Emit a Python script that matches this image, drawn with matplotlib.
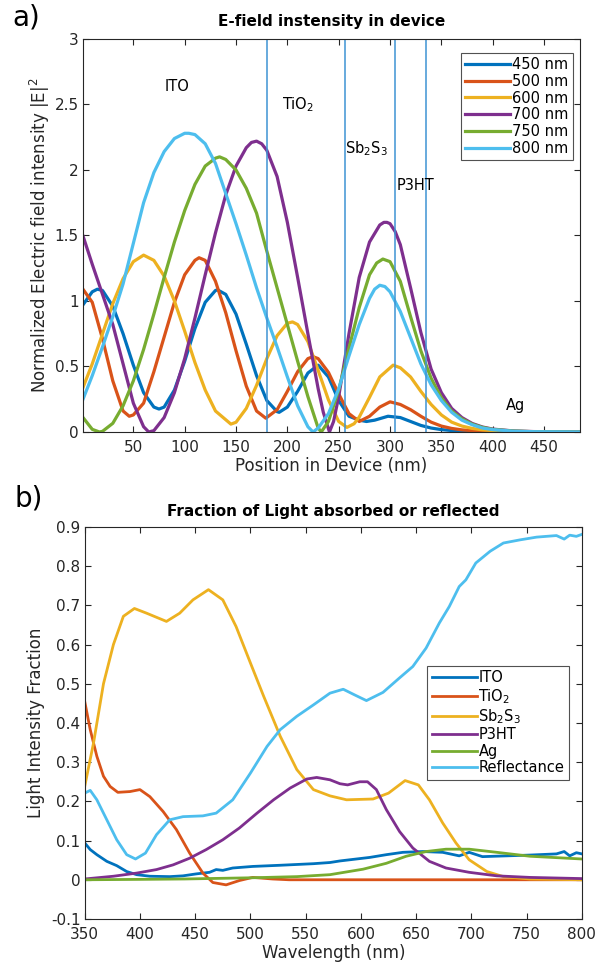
import matplotlib
matplotlib.use("Agg")
import matplotlib.pyplot as plt
from matplotlib.ticker import FormatStrFormatter

plt.rcParams['font.family'] = ['DejaVu Sans']
plt.rcParams['axes.unicode_minus'] = False

# ---- a) E-field intensity vs position in device ----
pos_450 = [0,10,15,20,30,40,50,60,70,75,80,90,100,110,120,130,132,140,150,160,170,180,190,192,200,
           210,220,230,240,250,260,270,277,285,298,310,320,330,340,350,360,370,380,400,430,485]
e_450 = [0.96,1.07,1.09,1.08,0.96,0.75,0.51,0.30,0.19,0.175,0.19,0.32,0.54,0.79,0.99,1.08,1.085,1.05,0.90,0.67,
         0.43,0.24,0.155,0.15,0.19,0.31,0.45,0.51,0.42,0.24,0.12,0.09,0.08,0.09,0.12,0.11,0.08,0.05,0.03,0.018,
         0.011,0.007,0.004,0.002,0.001,0.0]

pos_500 = [0,10,20,30,40,46,50,60,70,80,90,100,110,114,120,130,140,150,160,170,179,190,200,210,220,225,
           230,240,250,260,270,280,290,300,310,320,330,340,350,360,370,380,390,420,485]
e_500 = [1.10,0.99,0.71,0.39,0.16,0.12,0.13,0.22,0.46,0.725,0.99,1.2,1.31,1.33,1.31,1.15,0.91,0.62,0.35,0.16,
         0.105,0.17,0.31,0.46,0.56,0.575,0.56,0.455,0.29,0.14,0.08,0.12,0.19,0.23,0.21,0.17,0.12,0.075,0.045,
         0.027,0.016,0.01,0.006,0.002,0.0]

pos_600 = [0,10,20,30,40,50,60,70,80,90,100,110,120,130,145,150,160,170,180,190,200,205,210,220,230,
           240,250,258,265,270,280,290,303,310,320,330,340,350,360,370,380,390,400,420,485]
e_600 = [0.32,0.52,0.75,0.98,1.17,1.30,1.35,1.31,1.19,1.0,0.77,0.53,0.32,0.16,0.06,0.074,0.18,0.356,0.56,0.735,
         0.83,0.84,0.82,0.69,0.47,0.245,0.08,0.035,0.063,0.114,0.264,0.42,0.51,0.49,0.42,0.31,0.21,0.13,0.075,
         0.045,0.027,0.016,0.01,0.004,0.0]

pos_700 = [0,10,20,30,40,50,60,65,70,80,90,100,110,120,130,140,150,160,165,170,175,180,190,200,210,220,230,235,
           241,245,250,260,270,280,290,294,297,300,305,310,320,330,340,350,360,370,380,390,400,420,440,485]
e_700 = [1.52,1.28,1.05,0.82,0.52,0.22,0.04,0.0,0.01,0.11,0.30,0.56,0.87,1.20,1.52,1.81,2.03,2.17,2.21,2.22,2.2,2.15,
         1.95,1.6,1.18,0.75,0.33,0.15,0.0,0.08,0.27,0.75,1.18,1.45,1.58,1.6,1.60,1.59,1.53,1.43,1.1,0.76,0.48,0.30,
         0.18,0.11,0.065,0.038,0.022,0.008,0.003,0.0]

pos_750 = [0,10,17,20,30,40,50,60,70,80,90,100,110,120,130,134,140,150,160,170,180,190,200,210,220,230,
           233,240,250,260,270,280,287,293,300,310,320,330,340,350,360,370,380,390,400,420,440,485]
e_750 = [0.12,0.02,0.0,0.005,0.066,0.2,0.39,0.63,0.90,1.18,1.45,1.69,1.89,2.03,2.09,2.10,2.08,2.0,1.86,1.67,
         1.38,1.1,0.82,0.54,0.27,0.03,0.0,0.08,0.32,0.64,0.95,1.2,1.29,1.32,1.3,1.15,0.88,0.62,0.41,0.26,0.16,
         0.1,0.06,0.035,0.02,0.007,0.002,0.0]

pos_800 = [0,10,20,30,40,50,60,70,80,90,100,104,110,120,130,140,150,160,170,180,190,200,210,220,225,
           230,240,250,260,270,280,285,290,295,300,310,320,330,340,350,360,370,380,390,400,420,440,485]
e_800 = [0.23,0.43,0.65,0.88,1.13,1.44,1.75,1.98,2.14,2.24,2.28,2.28,2.27,2.2,2.05,1.82,1.59,1.35,1.1,0.87,
         0.65,0.42,0.2,0.04,0.0,0.03,0.14,0.33,0.58,0.82,1.02,1.09,1.12,1.11,1.07,0.92,0.72,0.52,0.36,0.24,0.15,0.09,
         0.055,0.03,0.018,0.006,0.002,0.0]

wl_labels = ['450 nm', '500 nm', '600 nm', '700 nm', '750 nm', '800 nm']
interfaces = [180, 256, 305, 335]
layer_names = ['ITO', r'TiO$_{\mathregular{2}}$', r'Sb$_{\mathregular{2}}$S$_{\mathregular{3}}$', 'P3HT', 'Ag']
layer_x = [80, 195, 256, 306, 413]
layer_y = [2.64, 2.5, 2.16, 1.88, 0.2]

# ---- b) fraction of light absorbed / reflected ----
wl_ito = [350,355,361,370,379,388,397,409,427,439,451,463,469,475,484,502,527,557,572,581,590,608,623,638,
          656,674,689,698,710,732,753,777,784,789,795,800]
f_ito = [0.094,0.077,0.064,0.047,0.036,0.021,0.013,0.009,0.008,0.010,0.015,0.019,0.026,0.024,0.030,0.034,
         0.037,0.041,0.044,0.048,0.051,0.057,0.064,0.070,0.072,0.070,0.061,0.070,0.059,0.061,0.063,0.066,
         0.072,0.061,0.069,0.066]

wl_tio2 = [350,355,361,367,373,380,391,400,409,421,433,445,457,466,478,490,502,520,535,600,700,800]
f_tio2 = [0.455,0.383,0.315,0.264,0.238,0.223,0.225,0.23,0.212,0.174,0.128,0.068,0.017,-0.007,-0.013,
          -0.002,0.006,0.002,0.0,0.0,0.0,0.0]

wl_sb2s3 = [350,358,367,376,385,395,406,424,436,448,462,475,487,500,512,527,542,557,572,587,611,625,640,
            652,662,674,686,698,714,729,753,800]
f_sb2s3 = [0.238,0.349,0.50,0.60,0.672,0.692,0.68,0.659,0.68,0.714,0.74,0.714,0.646,0.553,0.468,0.366,
           0.281,0.23,0.214,0.204,0.206,0.221,0.253,0.242,0.204,0.145,0.094,0.051,0.021,0.008,0.002,0.0]

wl_p3ht = [350,376,397,415,430,445,460,475,490,506,521,536,551,560,572,581,588,599,606,614,623,635,647,
           662,677,698,723,753,800]
f_p3ht = [0.002,0.009,0.017,0.026,0.038,0.055,0.077,0.102,0.132,0.17,0.204,0.234,0.257,0.261,0.255,0.245,
          0.242,0.25,0.25,0.23,0.179,0.123,0.081,0.047,0.03,0.019,0.010,0.006,0.003]

wl_ag = [350,400,440,500,542,572,602,623,641,659,677,698,723,753,800]
f_ag = [0.0,0.001,0.002,0.005,0.008,0.013,0.027,0.042,0.06,0.072,0.078,0.078,0.07,0.06,0.053]

wl_refl = [350,355,361,370,379,388,396,405,415,427,439,457,469,484,500,515,527,542,557,572,584,594,605,
           620,635,647,659,671,680,689,695,704,717,729,744,759,777,784,789,795,800]
f_refl = [0.221,0.228,0.204,0.153,0.102,0.064,0.053,0.068,0.115,0.153,0.161,0.163,0.17,0.204,0.272,0.34,
          0.383,0.417,0.446,0.476,0.486,0.472,0.457,0.478,0.515,0.544,0.591,0.655,0.697,0.748,0.765,0.808,
          0.838,0.859,0.867,0.874,0.878,0.869,0.879,0.876,0.881]

comp_labels = ['ITO', r'TiO$_2$', r'Sb$_2$S$_3$', 'P3HT', 'Ag', 'Reflectance']

colors = ['#0072BD', '#D95319', '#EDB120', '#7E2F8E', '#77AC30', '#4DBEEE']
axcol = '#262626'

fig = plt.figure(figsize=(5.99, 9.74), dpi=100)


def style(ax):
    ax.tick_params(direction='in', top=True, right=True, length=4, width=0.8,
                   labelsize=11, colors=axcol, labelcolor=axcol)
    ax.tick_params(axis='x', pad=6)
    ax.tick_params(axis='y', pad=3)
    for s in ax.spines.values():
        s.set_color(axcol)
        s.set_linewidth(0.8)


# panel a
ax1 = fig.add_axes([0.1386, 0.5565, 0.8297, 0.4035])
series = [(pos_450, e_450), (pos_500, e_500), (pos_600, e_600),
          (pos_700, e_700), (pos_750, e_750), (pos_800, e_800)]
for (x, y), c, lab in zip(series, colors, wl_labels):
    ax1.plot(x, y, color=c, lw=2.3, label=lab, solid_joinstyle='round')
for xi in interfaces:
    ax1.axvline(xi, color='#3f93d3', lw=1.1)
for name, lx, ly in zip(layer_names, layer_x, layer_y):
    ax1.text(lx, ly, name, fontsize=10.5, color='black', va='center')
ax1.set_xlim(1, 485)
ax1.set_ylim(0, 3)
ax1.set_xticks([50, 100, 150, 200, 250, 300, 350, 400, 450])
ax1.set_yticks([0, 0.5, 1, 1.5, 2, 2.5, 3])
ax1.yaxis.set_major_formatter(FormatStrFormatter('%g'))
style(ax1)
ax1.set_xlabel('Position in Device (nm)', fontsize=12, color=axcol, labelpad=1)
ax1.set_ylabel(r'Normalized Electric field intensity |E|$^{\mathregular{2}}$', fontsize=12,
               color=axcol, labelpad=2)
ax1.set_title('E-field instensity in device', fontsize=11, fontweight='bold', pad=9)
leg1 = ax1.legend(loc='upper right', bbox_to_anchor=(0.985, 0.965), fontsize=10.5, frameon=True,
                  fancybox=False, edgecolor=axcol, handlelength=3.1, handletextpad=0.1,
                  labelspacing=0.12, borderpad=0.3, borderaxespad=0)
leg1.get_frame().set_linewidth(0.8)

# panel b
ax2 = fig.add_axes([0.1414, 0.0565, 0.830, 0.4025])
bseries = [(wl_ito, f_ito), (wl_tio2, f_tio2), (wl_sb2s3, f_sb2s3),
           (wl_p3ht, f_p3ht), (wl_ag, f_ag), (wl_refl, f_refl)]
for (x, y), c, lab in zip(bseries, colors, comp_labels):
    ax2.plot(x, y, color=c, lw=2.0, label=lab, solid_joinstyle='round')
ax2.set_xlim(350, 800)
ax2.set_ylim(-0.1, 0.9)
ax2.set_xticks(range(350, 801, 50))
ax2.set_yticks([-0.1, 0, 0.1, 0.2, 0.3, 0.4, 0.5, 0.6, 0.7, 0.8, 0.9])
ax2.yaxis.set_major_formatter(FormatStrFormatter('%g'))
style(ax2)
ax2.set_xlabel('Wavelength (nm)', fontsize=12, color=axcol, labelpad=1)
ax2.set_ylabel('Light Intensity Fraction', fontsize=12, color=axcol, labelpad=4)
ax2.set_title('Fraction of Light absorbed or reflected', fontsize=11, fontweight='bold', pad=8)
leg2 = ax2.legend(loc='upper right', bbox_to_anchor=(0.9735, 0.645), fontsize=10.5, frameon=True,
                  fancybox=False, edgecolor=axcol, handlelength=3.1, handletextpad=0.1,
                  labelspacing=0.1, borderpad=0.3, borderaxespad=0)
leg2.get_frame().set_linewidth(0.8)

fig.text(0.02, 0.982, 'a)', fontsize=20, va='center', ha='left')
fig.text(0.025, 0.488, 'b)', fontsize=20, va='center', ha='left')

fig.savefig('out.png', dpi=100)
